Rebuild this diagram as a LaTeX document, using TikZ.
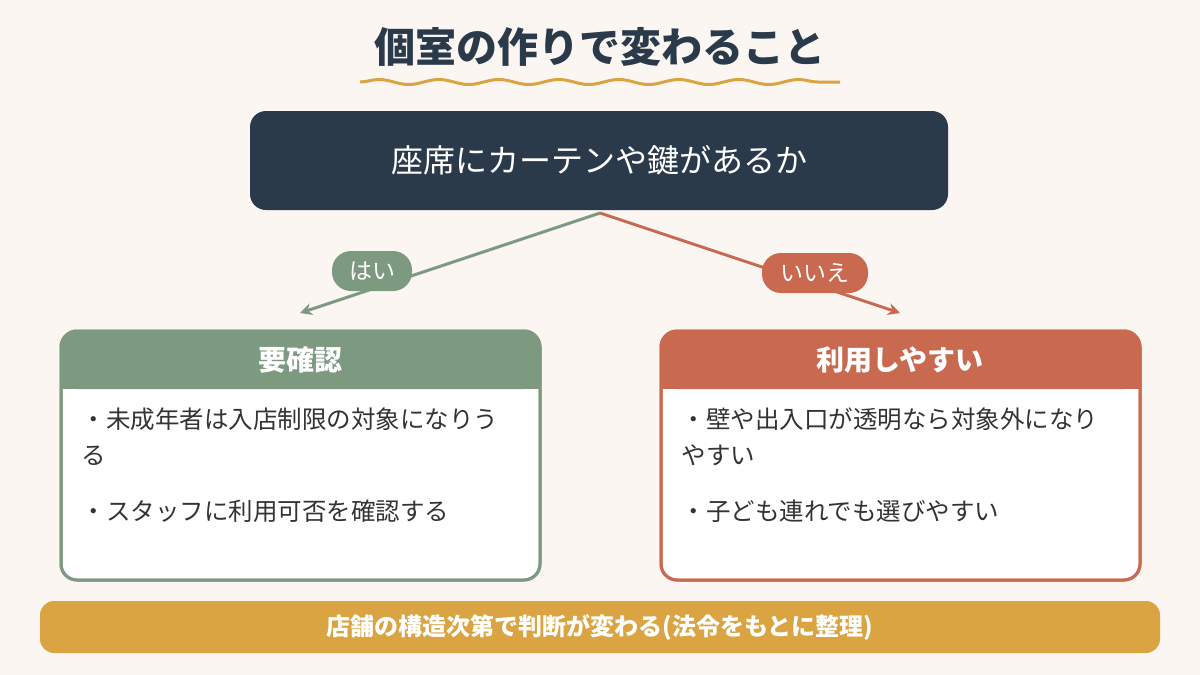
\documentclass[tikz,border=0pt]{standalone}
\usepackage{fontspec}
\setmainfont{Noto Sans CJK JP}
\usetikzlibrary{positioning}
\usetikzlibrary{decorations.pathmorphing}
\usetikzlibrary{arrows.meta}
\definecolor{navy}{HTML}{2B3A4A}
\definecolor{sage}{HTML}{7D9A80}
\definecolor{rust}{HTML}{C96A50}
\definecolor{gold}{HTML}{D9A441}
\definecolor{paper}{HTML}{FBF6F1}
\definecolor{ink}{HTML}{333333}
\begin{document}
\begin{tikzpicture}[x=1pt,y=-1pt,
    pill/.style={rounded corners=19pt, minimum width=80pt, minimum height=40pt, text=white, font=\fontsize{23}{26}\selectfont, inner sep=0pt},
    head/.style={text=white, font=\fontsize{28}{32}\selectfont\bfseries},
    item/.style={anchor=north west, align=left, text=ink, font=\fontsize{24.5}{36}\selectfont},
    branch/.style={line width=3pt, -{Stealth[length=12pt,width=12pt]}}]
        \useasboundingbox[fill=paper] (0,0) rectangle (1200,675);
        \node[text=navy, font=\fontsize{41}{46}\selectfont\bfseries] (title) at (600,47) {個室の作りで変わること};
        \draw[gold, line width=3pt, decorate, decoration={snake, amplitude=2.5pt, segment length=60pt}] (360,82) -- (840,82);
        
        \fill[navy, rounded corners=16pt] (250,111) rectangle (948,210);
        \node[text=white, font=\fontsize{32}{36}\selectfont] (q) at (599,160) {座席にカーテンや鍵があるか};
        \coordinate (qs) at (600,213);
        
        % left branch
        \coordinate (lt) at (300,313);
        \draw[branch, sage] (qs) -- (lt);
        \node[pill, fill=sage] (yes) at (372,271) {はい};
        \draw[sage, line width=3pt, fill=white, rounded corners=16pt] (61,331) rectangle (540,580);
        \fill[sage, rounded corners=16pt] (61,331) rectangle (540,389);
        \fill[sage] (61,370) rectangle (540,389);
        \draw[sage, line width=3pt, rounded corners=16pt] (61,331) rectangle (540,580);
        \node[head] (lhead) at (300,360) {要確認};
        \node[item] (l1) at (78,404) {・未成年者は入店制限の対象になりう\\る};
        \node[item] (l2) at (78,496) {・スタッフに利用可否を確認する};
        
        % right branch
        \coordinate (rt) at (900,313);
        \draw[branch, rust] (qs) -- (rt);
        \node[pill, fill=rust, minimum width=106pt] (no) at (815,273) {いいえ};
        \draw[rust, line width=3pt, fill=white, rounded corners=16pt] (661,331) rectangle (1140,580);
        \fill[rust, rounded corners=16pt] (661,331) rectangle (1140,389);
        \fill[rust] (661,370) rectangle (1140,389);
        \draw[rust, line width=3pt, rounded corners=16pt] (661,331) rectangle (1140,580);
        \node[head] (rhead) at (900,360) {利用しやすい};
        \node[item] (r1) at (678,404) {・壁や出入口が透明なら対象外になり\\やすい};
        \node[item] (r2) at (678,496) {・子ども連れでも選びやすい};
        
        \fill[gold, rounded corners=14pt] (40,601) rectangle (1160,653);
        \node[text=white, font=\fontsize{24}{28}\selectfont\bfseries] (note) at (600,627) {店舗の構造次第で判断が変わる(法令をもとに整理)};
    \end{tikzpicture}
\end{document}
